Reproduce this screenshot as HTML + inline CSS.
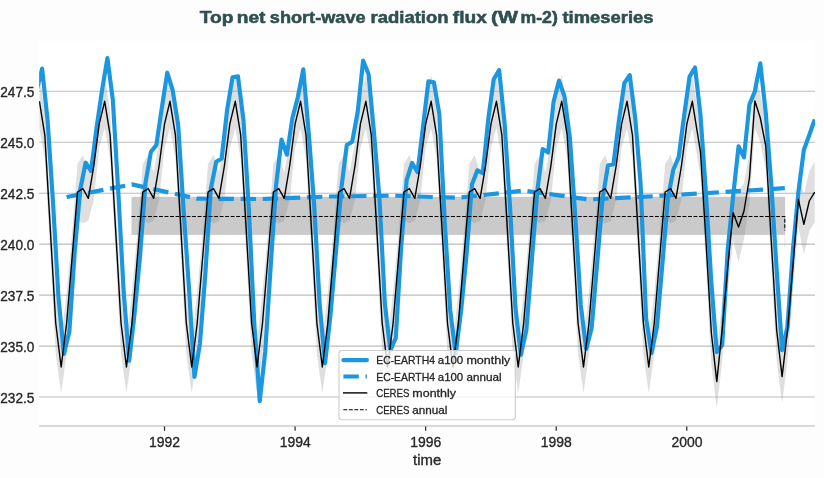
<!DOCTYPE html>
<html lang="en"><head><meta charset="utf-8">
<title>Top net short-wave radiation flux (W m-2) timeseries</title>
<style>html,body{margin:0;padding:0;background:#fdfdfd;overflow:hidden}svg{display:block;will-change:transform}text{font-family:'Liberation Sans', 'DejaVu Sans', sans-serif}</style>
</head><body>
<svg width="824" height="478" viewBox="0 0 824 478">
<defs><clipPath id="ax"><rect x="39.10" y="40.70" width="775.90" height="385.30"/></clipPath></defs>
<rect x="0" y="0" width="824" height="478" fill="#fdfdfd"/>
<rect x="39.10" y="40.70" width="775.90" height="385.30" fill="#ffffff"/>
<g stroke="#bdbdbd" stroke-width="1.1">
<line x1="39.10" y1="91.25" x2="815.00" y2="91.25"/>
<line x1="39.10" y1="142.22" x2="815.00" y2="142.22"/>
<line x1="39.10" y1="193.19" x2="815.00" y2="193.19"/>
<line x1="39.10" y1="244.16" x2="815.00" y2="244.16"/>
<line x1="39.10" y1="295.13" x2="815.00" y2="295.13"/>
<line x1="39.10" y1="346.10" x2="815.00" y2="346.10"/>
<line x1="39.10" y1="397.07" x2="815.00" y2="397.07"/>
</g>
<g clip-path="url(#ax)">
<rect x="131.5" y="196.8" width="653.30" height="38.10" fill="#808080" fill-opacity="0.42"/>
<line x1="784.8" y1="196.8" x2="784.8" y2="247" stroke="#808080" stroke-opacity="0.22" stroke-width="0.8"/>
<polygon points="39.39,74.30 44.83,111.20 50.27,203.60 55.71,292.00 61.16,340.70 66.60,292.50 72.04,233.00 77.48,164.00 82.92,155.00 88.36,172.30 93.80,143.00 99.24,99.90 104.68,74.30 110.12,111.20 115.56,203.60 121.01,292.00 126.45,340.70 131.89,292.50 137.33,233.00 142.77,164.00 148.21,155.00 153.65,172.30 159.09,143.00 164.53,99.90 169.98,74.30 175.42,111.20 180.86,203.60 186.30,292.00 191.74,340.70 197.18,292.50 202.62,233.00 208.06,164.00 213.50,155.00 218.94,172.30 224.38,143.00 229.83,99.90 235.27,74.30 240.71,111.20 246.15,203.60 251.59,292.00 257.03,340.70 262.47,292.50 267.91,233.00 273.35,164.00 278.80,155.00 284.24,172.30 289.68,143.00 295.12,99.90 300.56,74.30 306.00,111.20 311.44,203.60 316.88,292.00 322.32,340.70 327.76,292.50 333.20,233.00 338.65,164.00 344.09,155.00 349.53,172.30 354.97,143.00 360.41,99.90 365.85,74.30 371.29,111.20 376.73,203.60 382.17,292.00 387.61,340.70 393.06,292.50 398.50,233.00 403.94,164.00 409.38,155.00 414.82,172.30 420.26,143.00 425.70,99.90 431.14,74.30 436.58,111.20 442.02,203.60 447.47,292.00 452.91,340.70 458.35,292.50 463.79,233.00 469.23,164.00 474.67,155.00 480.11,172.30 485.55,143.00 490.99,99.90 496.44,74.30 501.88,111.20 507.32,203.60 512.76,292.00 518.20,340.70 523.64,292.50 529.08,233.00 534.52,164.00 539.96,155.00 545.40,172.30 550.85,143.00 556.29,99.90 561.73,74.30 567.17,111.20 572.61,203.60 578.05,292.00 583.49,340.70 588.93,292.50 594.37,233.00 599.81,164.00 605.25,155.00 610.70,172.30 616.14,143.00 621.58,99.90 627.02,74.30 632.46,111.20 637.90,203.60 643.34,292.00 648.78,340.70 654.22,292.50 659.67,233.00 665.11,164.00 670.55,155.00 675.99,172.30 681.43,143.00 686.87,99.90 692.31,74.30 700.47,127.80 705.91,215.00 711.35,302.00 716.79,355.30 722.24,298.00 727.68,243.00 733.12,184.70 738.56,192.00 744.00,183.00 749.44,153.00 754.88,74.00 760.32,94.00 765.76,122.00 771.20,215.00 776.65,299.00 782.09,350.30 787.53,299.00 792.97,240.00 798.41,171.30 803.85,194.40 809.29,171.00 814.73,162.00 814.73,222.00 809.29,231.00 803.85,254.40 798.41,227.30 792.97,290.00 787.53,361.00 782.09,402.90 776.65,361.00 771.20,265.00 765.76,170.00 760.32,142.00 754.88,128.00 749.44,203.00 744.00,239.00 738.56,262.00 733.12,240.70 727.68,293.00 722.24,360.00 716.79,407.90 711.35,364.00 705.91,265.00 700.47,175.80 692.31,128.30 686.87,147.90 681.43,200.00 675.99,220.80 670.55,223.20 665.11,220.00 659.67,283.00 654.22,354.50 648.78,393.30 643.34,354.00 637.90,253.60 632.46,159.20 627.02,128.30 621.58,147.90 616.14,200.00 610.70,220.80 605.25,223.20 599.81,220.00 594.37,283.00 588.93,354.50 583.49,393.30 578.05,354.00 572.61,253.60 567.17,159.20 561.73,128.30 556.29,147.90 550.85,200.00 545.40,220.80 539.96,223.20 534.52,220.00 529.08,283.00 523.64,354.50 518.20,393.30 512.76,354.00 507.32,253.60 501.88,159.20 496.44,128.30 490.99,147.90 485.55,200.00 480.11,220.80 474.67,223.20 469.23,220.00 463.79,283.00 458.35,354.50 452.91,393.30 447.47,354.00 442.02,253.60 436.58,159.20 431.14,128.30 425.70,147.90 420.26,200.00 414.82,220.80 409.38,223.20 403.94,220.00 398.50,283.00 393.06,354.50 387.61,393.30 382.17,354.00 376.73,253.60 371.29,159.20 365.85,128.30 360.41,147.90 354.97,200.00 349.53,220.80 344.09,223.20 338.65,220.00 333.20,283.00 327.76,354.50 322.32,393.30 316.88,354.00 311.44,253.60 306.00,159.20 300.56,128.30 295.12,147.90 289.68,200.00 284.24,220.80 278.80,223.20 273.35,220.00 267.91,283.00 262.47,354.50 257.03,393.30 251.59,354.00 246.15,253.60 240.71,159.20 235.27,128.30 229.83,147.90 224.38,200.00 218.94,220.80 213.50,223.20 208.06,220.00 202.62,283.00 197.18,354.50 191.74,393.30 186.30,354.00 180.86,253.60 175.42,159.20 169.98,128.30 164.53,147.90 159.09,200.00 153.65,220.80 148.21,223.20 142.77,220.00 137.33,283.00 131.89,354.50 126.45,393.30 121.01,354.00 115.56,253.60 110.12,159.20 104.68,128.30 99.24,147.90 93.80,200.00 88.36,220.80 82.92,223.20 77.48,220.00 72.04,283.00 66.60,354.50 61.16,393.30 55.71,354.00 50.27,253.60 44.83,159.20 39.39,128.30" fill="#808080" fill-opacity="0.25"/>
<polyline points="36.67,90.20 42.11,68.60 47.55,120.00 52.99,202.00 58.43,297.00 63.88,354.00 69.32,332.00 74.76,251.00 80.20,190.00 85.64,162.70 91.08,171.00 96.52,128.00 101.96,90.80 107.40,58.00 112.84,100.00 118.28,192.00 123.73,293.00 129.17,360.70 134.61,313.00 140.05,256.00 145.49,183.00 150.93,151.80 156.37,145.10 161.81,108.00 167.25,72.70 172.69,90.20 178.14,125.00 183.58,210.00 189.02,289.00 194.46,376.90 199.90,344.00 205.34,274.00 210.78,189.00 216.22,161.80 221.66,158.50 227.11,110.00 232.55,77.20 237.99,76.40 243.43,120.00 248.87,210.00 254.31,324.00 259.75,401.10 265.19,352.00 270.63,267.00 276.07,185.50 281.51,139.60 286.96,154.70 292.40,118.00 297.84,97.20 303.28,69.40 308.72,133.00 314.16,205.00 319.60,303.60 325.04,363.20 330.48,315.00 335.93,252.00 341.37,188.00 346.81,145.10 352.25,141.70 357.69,112.00 363.13,60.50 368.57,74.20 374.01,133.00 379.45,198.70 384.89,304.00 390.33,350.30 395.78,338.00 401.22,246.00 406.66,180.00 412.10,163.00 417.54,172.30 422.98,127.00 428.42,81.30 433.86,82.20 439.30,114.00 444.75,222.00 450.19,310.00 455.63,353.80 461.07,311.00 466.51,255.00 471.95,184.50 477.39,170.30 482.83,173.10 488.27,119.00 493.71,79.20 499.16,70.10 504.60,123.70 510.04,207.00 515.48,308.00 520.92,354.80 526.36,330.00 531.80,261.00 537.24,191.50 542.68,149.00 548.12,152.50 553.56,102.00 559.01,80.60 564.45,96.20 569.89,138.00 575.33,217.00 580.77,305.00 586.21,349.00 591.65,328.00 597.09,264.00 602.53,199.00 607.97,165.50 613.42,164.30 618.86,121.00 624.30,83.20 629.74,75.10 635.18,118.00 640.62,184.00 646.06,318.00 651.50,353.10 656.94,327.00 662.38,264.00 667.83,199.00 673.27,170.00 678.71,157.00 684.15,115.50 689.59,76.50 695.03,67.50 700.47,115.00 705.91,193.00 711.35,283.00 716.79,352.20 722.24,345.00 727.68,250.00 733.12,196.00 738.56,146.40 744.00,157.30 749.44,104.50 754.88,91.20 760.32,63.40 765.76,113.00 771.20,183.00 776.65,270.00 782.09,350.10 787.53,327.00 792.97,249.50 798.41,192.00 803.85,150.00 809.29,135.00 814.73,119.50" fill="none" stroke="#1b97e1" stroke-width="4.17" stroke-linejoin="round" stroke-linecap="butt"/>
<polyline points="66.60,197.00 131.89,184.40 197.18,198.70 262.47,199.00 327.76,196.50 393.05,195.70 458.34,197.80 523.63,190.60 588.92,199.50 654.21,196.20 719.50,192.30 784.79,188.20" fill="none" stroke="#1b97e1" stroke-width="4.17" stroke-linejoin="round" stroke-dasharray="15.4 6.7"/>
<polyline points="39.39,101.30 44.83,135.20 50.27,228.60 55.71,323.00 61.16,367.00 66.60,323.50 72.04,258.00 77.48,192.00 82.92,188.60 88.36,198.30 93.80,166.00 99.24,123.90 104.68,101.30 110.12,135.20 115.56,228.60 121.01,323.00 126.45,367.00 131.89,323.50 137.33,258.00 142.77,192.00 148.21,188.60 153.65,198.30 159.09,166.00 164.53,123.90 169.98,101.30 175.42,135.20 180.86,228.60 186.30,323.00 191.74,367.00 197.18,323.50 202.62,258.00 208.06,192.00 213.50,188.60 218.94,198.30 224.38,166.00 229.83,123.90 235.27,101.30 240.71,135.20 246.15,228.60 251.59,323.00 257.03,367.00 262.47,323.50 267.91,258.00 273.35,192.00 278.80,188.60 284.24,198.30 289.68,166.00 295.12,123.90 300.56,101.30 306.00,135.20 311.44,228.60 316.88,323.00 322.32,367.00 327.76,323.50 333.20,258.00 338.65,192.00 344.09,188.60 349.53,198.30 354.97,166.00 360.41,123.90 365.85,101.30 371.29,135.20 376.73,228.60 382.17,323.00 387.61,367.00 393.06,323.50 398.50,258.00 403.94,192.00 409.38,188.60 414.82,198.30 420.26,166.00 425.70,123.90 431.14,101.30 436.58,135.20 442.02,228.60 447.47,323.00 452.91,367.00 458.35,323.50 463.79,258.00 469.23,192.00 474.67,188.60 480.11,198.30 485.55,166.00 490.99,123.90 496.44,101.30 501.88,135.20 507.32,228.60 512.76,323.00 518.20,367.00 523.64,323.50 529.08,258.00 534.52,192.00 539.96,188.60 545.40,198.30 550.85,166.00 556.29,123.90 561.73,101.30 567.17,135.20 572.61,228.60 578.05,323.00 583.49,367.00 588.93,323.50 594.37,258.00 599.81,192.00 605.25,188.60 610.70,198.30 616.14,166.00 621.58,123.90 627.02,101.30 632.46,135.20 637.90,228.60 643.34,323.00 648.78,367.00 654.22,323.50 659.67,258.00 665.11,192.00 670.55,188.60 675.99,198.30 681.43,166.00 686.87,123.90 692.31,101.30 700.47,151.80 705.91,240.00 711.35,333.00 716.79,381.60 722.24,329.00 727.68,268.00 733.12,212.70 738.56,227.00 744.00,211.00 749.44,178.00 754.88,101.00 760.32,118.00 765.76,146.00 771.20,240.00 776.65,330.00 782.09,376.60 787.53,330.00 792.97,265.00 798.41,199.30 803.85,224.40 809.29,201.00 814.73,192.00" fill="none" stroke="#000" stroke-width="1.4" stroke-linejoin="round"/>
<polyline points="131.5,216.45 784.8,216.45 784.8,230.5" fill="none" stroke="#000" stroke-width="1.1" stroke-dasharray="3.85 1.66"/>
</g>
<line x1="39.10" y1="426.00" x2="815.00" y2="426.00" stroke="#cccccc" stroke-width="1.5"/>
<g stroke="#262626" stroke-width="1.2">
<line x1="164.50" y1="426.40" x2="164.50" y2="430.80"/>
<line x1="295.10" y1="426.40" x2="295.10" y2="430.80"/>
<line x1="425.65" y1="426.40" x2="425.65" y2="430.80"/>
<line x1="556.20" y1="426.40" x2="556.20" y2="430.80"/>
<line x1="686.80" y1="426.40" x2="686.80" y2="430.80"/>
</g>
<g fill="#262626" font-size="13.9" stroke="#262626" stroke-width="0.33">
<text x="0.3" y="97.15" textLength="34.1" lengthAdjust="spacingAndGlyphs">247.5</text>
<text x="0.3" y="148.12" textLength="34.1" lengthAdjust="spacingAndGlyphs">245.0</text>
<text x="0.3" y="199.09" textLength="34.1" lengthAdjust="spacingAndGlyphs">242.5</text>
<text x="0.3" y="250.06" textLength="34.1" lengthAdjust="spacingAndGlyphs">240.0</text>
<text x="0.3" y="301.03" textLength="34.1" lengthAdjust="spacingAndGlyphs">237.5</text>
<text x="0.3" y="352.00" textLength="34.1" lengthAdjust="spacingAndGlyphs">235.0</text>
<text x="0.3" y="402.97" textLength="34.1" lengthAdjust="spacingAndGlyphs">232.5</text>
<text x="149.10" y="447.0" textLength="31.0" lengthAdjust="spacingAndGlyphs">1992</text>
<text x="279.70" y="447.0" textLength="31.0" lengthAdjust="spacingAndGlyphs">1994</text>
<text x="410.25" y="447.0" textLength="31.0" lengthAdjust="spacingAndGlyphs">1996</text>
<text x="540.80" y="447.0" textLength="31.0" lengthAdjust="spacingAndGlyphs">1998</text>
<text x="671.40" y="447.0" textLength="31.0" lengthAdjust="spacingAndGlyphs">2000</text>
<text x="413.1" y="465.4" textLength="28.2" lengthAdjust="spacingAndGlyphs" font-size="14.2">time</text>
</g>
<text y="23.4" font-size="17.2" font-weight="bold" fill="#2f4f4f" stroke="#2f4f4f" stroke-width="0.55" xml:space="preserve"><tspan x="199.7" textLength="33.8" lengthAdjust="spacingAndGlyphs">Top</tspan> <tspan x="236.8" textLength="28.7" lengthAdjust="spacingAndGlyphs">net</tspan> <tspan x="269.8" textLength="95.8" lengthAdjust="spacingAndGlyphs">short-wave</tspan> <tspan x="370.6" textLength="77.9" lengthAdjust="spacingAndGlyphs">radiation</tspan> <tspan x="452.8" textLength="34.0" lengthAdjust="spacingAndGlyphs">flux</tspan> <tspan x="491.0" textLength="27.0" lengthAdjust="spacingAndGlyphs">(W</tspan> <tspan x="520.6" textLength="37.2" lengthAdjust="spacingAndGlyphs">m-2)</tspan> <tspan x="562.4" textLength="91.1" lengthAdjust="spacingAndGlyphs">timeseries</tspan></text>
<rect x="339.0" y="350.5" width="176.3" height="69.2" rx="2.6" ry="2.6" fill="#ffffff" fill-opacity="0.8" stroke="#cccccc" stroke-width="1.1"/>
<line x1="343.4" y1="360.1" x2="366.9" y2="360.1" stroke="#1b97e1" stroke-width="4.17" stroke-linecap="round"/>
<line x1="343.4" y1="376.5" x2="366.9" y2="376.5" stroke="#1b97e1" stroke-width="4.17" stroke-dasharray="15.4 6.7"/>
<line x1="343.0" y1="392.9" x2="367.3" y2="392.9" stroke="#000" stroke-width="1.4"/>
<line x1="343.4" y1="409.7" x2="366.9" y2="409.7" stroke="#000" stroke-width="1.05" stroke-dasharray="3.85 1.66"/>
<g fill="#262626" font-size="11.2" stroke="#262626" stroke-width="0.3">
<text y="363.5" xml:space="preserve"><tspan x="376.2" textLength="58.8" lengthAdjust="spacingAndGlyphs">EC-EARTH4</tspan> <tspan x="437.8" textLength="25.4" lengthAdjust="spacingAndGlyphs">a100</tspan> <tspan x="466.4" textLength="43.8" lengthAdjust="spacingAndGlyphs">monthly</tspan></text>
<text y="380.9" xml:space="preserve"><tspan x="376.2" textLength="58.8" lengthAdjust="spacingAndGlyphs">EC-EARTH4</tspan> <tspan x="437.8" textLength="25.4" lengthAdjust="spacingAndGlyphs">a100</tspan> <tspan x="466.4" textLength="35.1" lengthAdjust="spacingAndGlyphs">annual</tspan></text>
<text y="397.0" xml:space="preserve"><tspan x="376.2" textLength="33.3" lengthAdjust="spacingAndGlyphs">CERES</tspan> <tspan x="412.3" textLength="43.7" lengthAdjust="spacingAndGlyphs">monthly</tspan></text>
<text y="413.8" xml:space="preserve"><tspan x="376.2" textLength="33.3" lengthAdjust="spacingAndGlyphs">CERES</tspan> <tspan x="412.3" textLength="35.1" lengthAdjust="spacingAndGlyphs">annual</tspan></text>
</g>
</svg></body></html>
